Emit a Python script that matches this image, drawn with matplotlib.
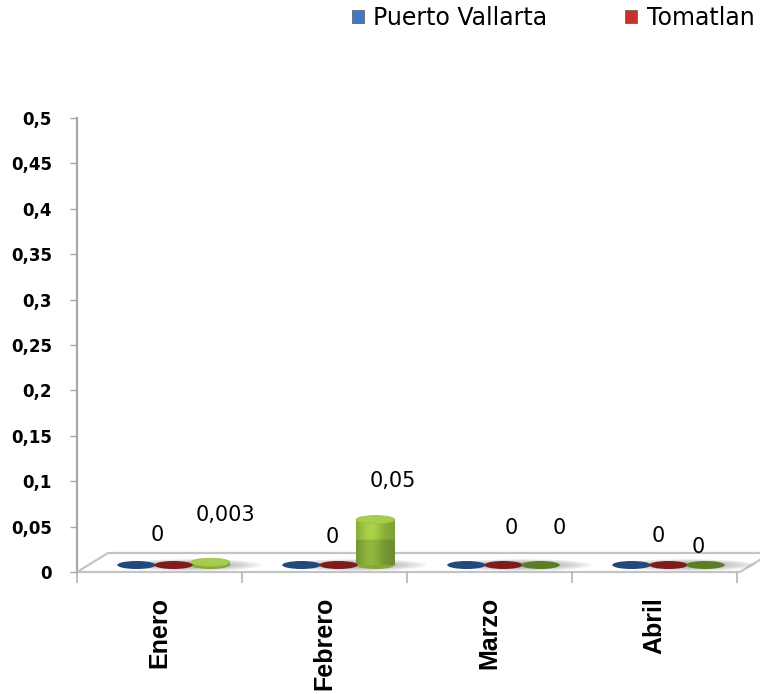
import matplotlib
matplotlib.use('Agg')
import matplotlib.pyplot as plt
import numpy as np
from matplotlib.patches import Ellipse, Polygon, Patch
from matplotlib.transforms import ScaledTranslation
from matplotlib.ticker import FixedLocator, NullFormatter

# ---------------- data ----------------
categories = ['Enero', 'Febrero', 'Marzo', 'Abril']
series_names = ['Puerto Vallarta', 'Tomatlan', 'Cabo Corrientes']
puerto_vallarta = [0, 0, 0, 0]
tomatlan = [0, 0, 0, 0]
cabo_corrientes = [0.003, 0.05, 0, 0]
y_ticks = [0, 0.05, 0.1, 0.15, 0.2, 0.25, 0.3, 0.35, 0.4, 0.45, 0.5]
y_tick_labels = ['0', '0,05', '0,1', '0,15', '0,2', '0,25', '0,3', '0,35', '0,4', '0,45', '0,5']
tomatlan_labels = ['0', '0', '0', '0']
cabo_labels = ['0,003', '0,05', '0', '0']

# ---------------- style ----------------
series_values = [puerto_vallarta, tomatlan, cabo_corrientes]
dark_cols = ['#23497c', '#7d1c1c', '#5c7d28']
light_cols = ['#3f77c0', '#c23a36', '#a6cc50']
body_top = ['#3a6cae', '#b03030', '#9cc442']
body_bot = ['#2f5a94', '#962626', '#86aa3a']
legend_cols = ['#3f78c4', '#c8302c', '#9bc23f']
# label offsets in pixels (dx, dy up) relative to bar top
tom_off = [(-16, 30), (-6, 28), (8, 37), (-10, 29)]
cab_off = [(15, 47), (17, 39), (19, 37), (-7, 18)]

W, H = 760, 694
fig = plt.figure(figsize=(W / 100, H / 100), dpi=100)
ax = fig.add_axes([77 / W, 122 / H, 660 / W, 454 / H])
ax.set_xlim(-0.5, 3.5)
ax.set_ylim(0, 0.5)
pxx = 660 / 4.0     # px per category
pxy = 454 / 0.5     # px per value unit

# depth offset of bars on the floor
bar_off = ScaledTranslation(14 / 100, 7 / 100, fig.dpi_scale_trans)
btr = ax.transData + bar_off

# floor
dxb, dyb = 31 / pxx, 19 / pxy
floor = Polygon([(-0.5, 0), (3.5 + 3 / pxx, 0), (3.5 + 3 / pxx + dxb, dyb), (-0.5 + dxb, dyb)],
                closed=True, facecolor='white', edgecolor='#c4c4c4', lw=1.6,
                clip_on=False, zorder=1)
ax.add_patch(floor)

spacing = 37 / pxx
bw = 38.5 / pxx
eh = 8 / pxy

# shadows
for i in range(len(categories)):
    cx = i + 18 / pxx
    for k in range(8):
        w = (140 - k * 11) / pxx
        h = (12 - k * 1.0) / pxy
        ax.add_patch(Ellipse((cx, 0), w, h, transform=btr, facecolor='#707070',
                             edgecolor='none', alpha=0.08, clip_on=False, zorder=2))

# bars (cylinders)
for j, vals in enumerate(series_values):
    for i, v in enumerate(vals):
        x = i + (j - 1) * spacing
        if v > 0:
            ax.add_patch(Ellipse((x, 0), bw, eh, transform=btr, facecolor=body_bot[j],
                                 edgecolor='none', clip_on=False, zorder=3))
            nx = 60
            t = np.linspace(0, 1, nx)
            shade = 0.82 + 0.26 * np.exp(-((t - 0.38) / 0.32) ** 2)
            ny = 40
            top_c = np.array(matplotlib.colors.to_rgb(body_top[j]))
            bot_c = np.array(matplotlib.colors.to_rgb(body_bot[j]))
            img = np.zeros((ny, nx, 3))
            for r in range(ny):
                base = top_c if r < ny * 0.45 else bot_c
                img[r] = np.clip(base[None, :] * shade[:, None], 0, 1)
            ax.imshow(img, extent=(x - bw / 2, x + bw / 2, 0, v), transform=btr,
                      aspect='auto', interpolation='bilinear', zorder=4, clip_on=False)
            ax.add_patch(Ellipse((x, v), bw, eh, transform=btr, facecolor=light_cols[j],
                                 edgecolor=body_top[j], lw=0.6, clip_on=False, zorder=5))
        else:
            ax.add_patch(Ellipse((x, v), bw, eh, transform=btr, facecolor=dark_cols[j],
                                 edgecolor='none', clip_on=False, zorder=5))

ax.set_xlim(-0.5, 3.5)
ax.set_ylim(0, 0.5)

# data labels
for j, (vals, labs, offs) in enumerate([(tomatlan, tomatlan_labels, tom_off),
                                        (cabo_corrientes, cabo_labels, cab_off)]):
    jj = j + 1
    for i, v in enumerate(vals):
        x = i + (jj - 1) * spacing
        dx, dy = offs[i]
        ax.annotate(labs[i], xy=(x, v), xycoords=btr,
                    xytext=(dx * 0.72, dy * 0.72), textcoords='offset points',
                    ha='center', va='center', fontsize=15, family='DejaVu Sans',
                    color='#000000', zorder=6, annotation_clip=False)

# axes styling
for s in ['top', 'right', 'bottom']:
    ax.spines[s].set_visible(False)
ax.spines['left'].set_color('#a6a6a6')
ax.spines['left'].set_linewidth(1.6)
ax.spines['left'].set_zorder(0.5)

ax.set_yticks(y_ticks)
ax.set_yticklabels(y_tick_labels)
ax.tick_params(axis='y', direction='out', length=5, width=1, color='#a6a6a6', pad=13,
               labelsize=12)
for lbl in ax.get_yticklabels():
    lbl.set_fontweight('bold')
    lbl.set_family('DejaVu Sans')

ax.xaxis.set_major_locator(FixedLocator([-0.5, 0.5, 1.5, 2.5, 3.5]))
ax.xaxis.set_major_formatter(NullFormatter())
ax.xaxis.set_minor_locator(FixedLocator(list(range(len(categories)))))
ax.set_xticklabels(categories, minor=True)
ax.tick_params(axis='x', which='major', direction='out', length=8, width=1.2, color='#b4b4b4')
ax.tick_params(axis='x', which='minor', length=0, pad=18)
for lbl in ax.get_xticklabels(minor=True):
    lbl.set_rotation(90)
    lbl.set_fontweight('bold')
    lbl.set_family('Liberation Sans')
    lbl.set_fontsize(18)
    lbl.set_va('top')
    lbl.set_ha('center')

# legend: only the entries visible in the original frame
handles = [Patch(facecolor=legend_cols[k], edgecolor='#555555', lw=0.5) for k in range(2)]
fig.legend(handles, series_names[:2], loc='upper left', bbox_to_anchor=(352 / W, 1 - 6 / H),
           ncol=2, frameon=False, prop={'family': 'DejaVu Sans', 'size': 17},
           handlelength=0.5, handleheight=0.5, handletextpad=0.4, columnspacing=3.3,
           borderpad=0, borderaxespad=0)

fig.savefig('out.png', dpi=100)
